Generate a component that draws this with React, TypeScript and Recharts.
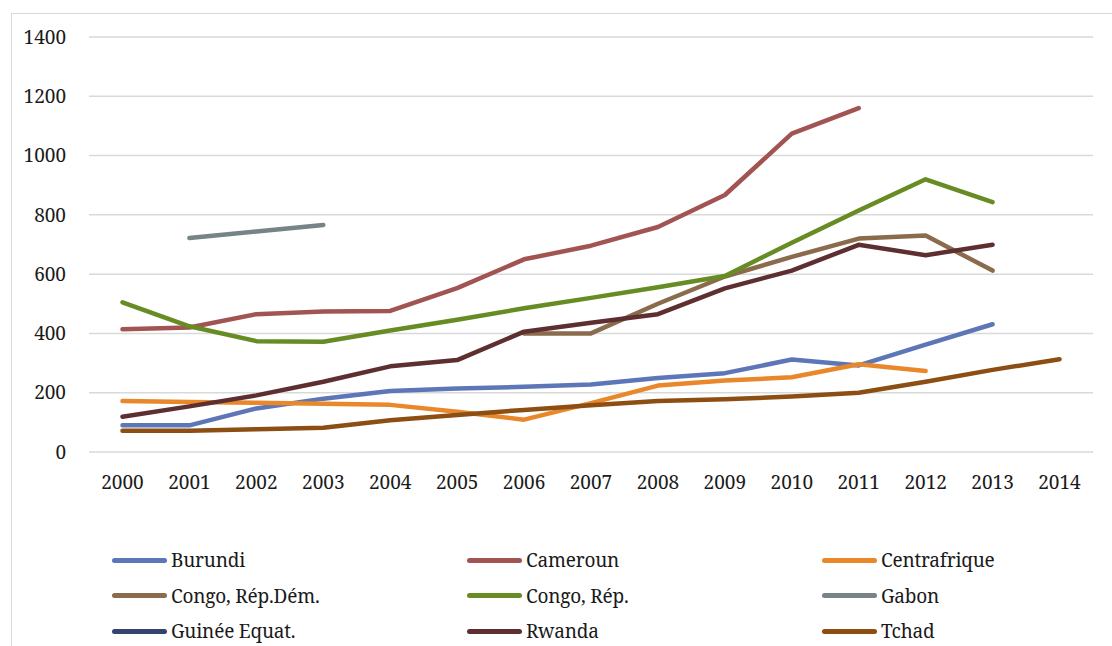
import React from "react"
import { LineChart, Line, XAxis, YAxis, CartesianGrid } from "recharts"

const years = ["2000", "2001", "2002", "2003", "2004", "2005", "2006", "2007", "2008", "2009", "2010", "2011", "2012", "2013", "2014"]
const yTicks = [0, 200, 400, 600, 800, 1000, 1200, 1400]

const burundi = [90, 90, 147, 180, 206, 214, 220, 228, 250, 266, 312, 292, 362, 431, null]
const cameroun = [414, 420, 465, 474, 476, 553, 650, 696, 759, 867, 1074, 1160, null, null, null]
const centrafrique = [172, 169, 166, 163, 159, 136, 109, 165, 224, 241, 252, 296, 273, null, null]
const congoRdc = [null, null, null, null, null, null, 400, 400, 500, 592, 658, 720, 730, 612, null]
const congoRep = [505, 424, 374, 372, 410, 446, 485, 520, 556, 594, 706, 815, 920, 843, null]
const gabon = [null, 722, 744, 766, null, null, null, null, null, null, null, null, null, null, null]
const guinee: (number | null)[] = years.map(() => null)
const rwanda = [119, 154, 191, 237, 289, 310, 406, 436, 465, 552, 612, 699, 664, 699, null]
const tchad = [72, 72, 77, 82, 107, 125, 142, 158, 172, 178, 187, 200, 237, 277, 313]

const series = [
  { key: "burundi", name: "Burundi", values: burundi, color: "#5d76b7" },
  { key: "cameroun", name: "Cameroun", values: cameroun, color: "#a15452" },
  { key: "centrafrique", name: "Centrafrique", values: centrafrique, color: "#e9882b" },
  { key: "congoRdc", name: "Congo, Rép.Dém.", values: congoRdc, color: "#8a6b4c" },
  { key: "congoRep", name: "Congo, Rép.", values: congoRep, color: "#678c23" },
  { key: "gabon", name: "Gabon", values: gabon, color: "#778387" },
  { key: "guinee", name: "Guinée Equat.", values: guinee, color: "#34446f" },
  { key: "rwanda", name: "Rwanda", values: rwanda, color: "#5e2f30" },
  { key: "tchad", name: "Tchad", values: tchad, color: "#8c4e12" },
]

const data = years.map((year, i) => {
  const row: Record<string, string | number | null> = { year }
  series.forEach((s) => {
    row[s.key] = s.values[i]
  })
  return row
})

const font = '"Noto Serif"'

function ChartLegend() {
  return (
    <div style={{ position: "absolute", left: 112, top: 551, width: 1000, fontFamily: font, fontSize: 19, color: "#1a1a1a" }}>
      {series.map((s, i) => (
        <div
          key={s.key}
          style={{
            position: "absolute",
            left: (i % 3) * 355,
            top: Math.floor(i / 3) * 35.5,
            display: "flex",
            alignItems: "center",
            height: 18,
            lineHeight: "18px",
            whiteSpace: "nowrap",
            letterSpacing: -0.2,
          }}
        >
          <div style={{ width: 55, height: 5, borderRadius: 3, background: s.color, marginRight: 4 }} />
          <span>{s.name}</span>
        </div>
      ))}
    </div>
  )
}

export default function App() {
  return (
    <div style={{ position: "absolute", left: 0, top: 0, width: 1112, height: 646, overflow: "hidden", background: "#fff" }}>
      <div style={{ position: "absolute", left: 11, top: 13, width: 1200, height: 700, border: "1.5px solid #d9d9d9" }} />
      <LineChart
        width={1112}
        height={646}
        data={data}
        margin={{ top: 37, right: 19, left: 0, bottom: 154 }}
        style={{ position: "absolute", left: 0, top: 0 }}
      >
        <CartesianGrid vertical={false} stroke="#d9d9d9" strokeWidth={1.5} />
        <XAxis
          dataKey="year"
          tickLine={false}
          axisLine={false}
          tickSize={0}
          tickMargin={24}
          height={40}
          interval={0}
          padding={{ left: 33.5, right: 33.5 }}
          tick={{ fontFamily: font, fontSize: 19, fill: "#1a1a1a" }}
        />
        <YAxis
          domain={[0, 1400]}
          ticks={yTicks}
          width={89}
          tickLine={false}
          axisLine={false}
          tickSize={0}
          tickMargin={23}
          tick={{ fontFamily: font, fontSize: 19, fill: "#1a1a1a" }}
        />
        {series.map((s) => (
          <Line
            key={s.key}
            dataKey={s.key}
            name={s.name}
            stroke={s.color}
            strokeWidth={4.5}
            strokeLinecap="round"
            strokeLinejoin="round"
            dot={false}
            activeDot={false}
            isAnimationActive={false}
          />
        ))}
      </LineChart>
      <ChartLegend />
    </div>
  )
}
